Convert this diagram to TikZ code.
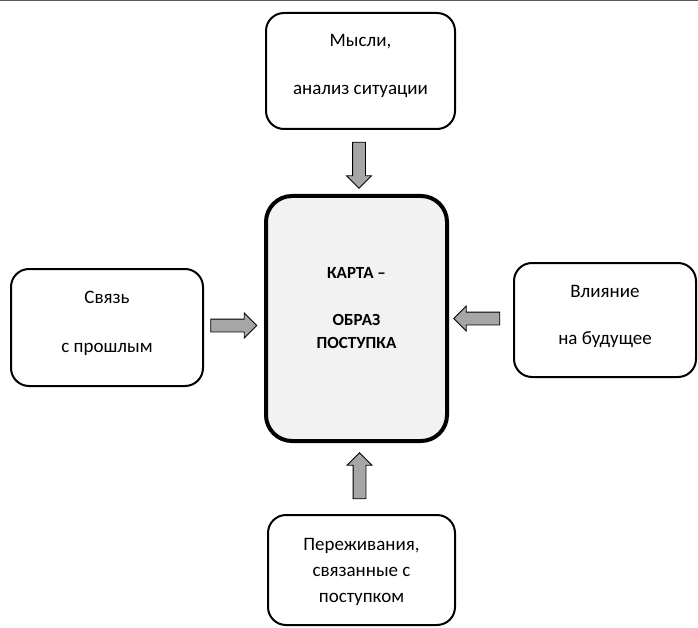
\documentclass[tikz,border=0pt]{standalone}
\usepackage{fontspec}
\setmainfont{Carlito}
\usepackage{xcolor}
\usetikzlibrary{shapes.arrows,positioning}

\definecolor{coregray}{HTML}{F2F2F2}
\definecolor{arrowgray}{HTML}{A6A6A6}
\definecolor{rulegray}{HTML}{595959}

\begin{document}
\begin{tikzpicture}[x=1pt,y=-1pt]
		\tikzset{
			every node/.style = {font=\fontsize{19}{24}\selectfont, align=center},
			side/.style = {draw, line width=2pt, rounded corners=18pt, inner sep=0pt},
			core/.style = {draw, line width=4pt, rounded corners=26pt, fill=coregray, inner sep=0pt},
			blockarrow/.style = {single arrow, draw, line width=0.8pt, fill=arrowgray,
				inner xsep=0pt, inner ysep=6pt, single arrow head extend=6pt, minimum height=46pt}
		}
		\useasboundingbox (0,0) rectangle (698,628);
		\draw [rulegray, line width=1.5pt] (0,0.75) -- (698,0.75);
		% central box
		\node [core, minimum width=181pt, minimum height=245pt,
			label={[yshift=10.5pt, font=\bfseries\fontsize{17}{23}\selectfont]center:{КАРТА --\\[24pt]ОБРАЗ\\ПОСТУПКА}}] (map) at (356.5,318.5) {};
		% boxes around
		\node [side, minimum width=189pt, minimum height=116pt,
			label={[yshift=5pt]center:{Мысли,\\[24pt]анализ ситуации}}] (thoughts) at (360.5,71) {};
		\node [side, minimum width=192pt, minimum height=117pt,
			label={[yshift=4pt]center:{Связь\\[25pt]с прошлым}}] (past) at (107,327.5) {};
		\node [side, minimum width=182pt, minimum height=114pt,
			label={[yshift=3.5pt]center:{Влияние\\[23pt]на будущее}}] (future) at (605,320) {};
		\node [side, minimum width=187pt, minimum height=110pt,
			label={[yshift=-1.5pt, font=\fontsize{19}{26}\selectfont]center:{Переживания,\\связанные с\\поступком}}] (feelings) at (361.5,570) {};
		% arrows into the map
		\node [blockarrow, rotate=-90] (a1) at (359,162) {};
		\node [blockarrow] (a2) at (230.5,325.5) {};
		\node [blockarrow, rotate=180] (a3) at (480,318.5) {};
		\node [blockarrow, rotate=90] (a4) at (359.5,479) {};
\end{tikzpicture}
\end{document}
